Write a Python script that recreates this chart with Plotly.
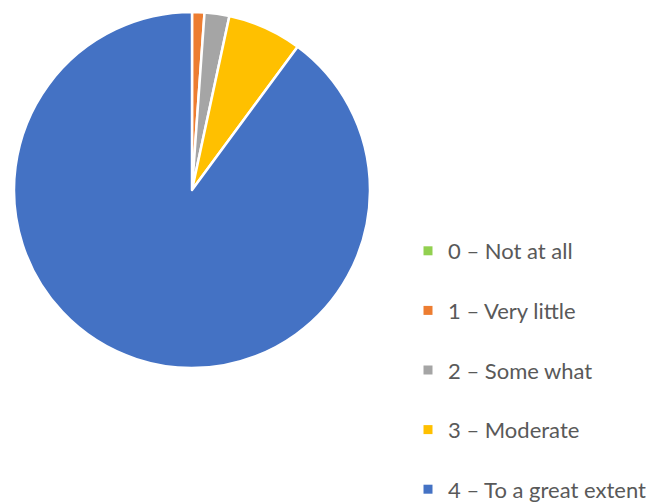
import plotly.graph_objects as go

labels = ["0 – Not at all", "1 – Very little", "2 – Some what", "3 – Moderate", "4 – To a great extent"]
values = [0, 1, 2, 6, 80]
colors = ["#92D050", "#ED7D31", "#A5A5A5", "#FFC000", "#4472C4"]

W, H = 654, 504
fig = go.Figure()
fig.add_trace(go.Pie(
    labels=labels, values=values, sort=False, direction="clockwise", rotation=0,
    marker=dict(colors=colors, line=dict(color="white", width=2.5)),
    textinfo="none", hoverinfo="label+value", showlegend=False,
    domain=dict(x=[6 / W, 362 / W], y=[1 - 360 / H, 1 - 4 / H]),
))
for i, (lab, col) in enumerate(zip(labels, colors)):
    fig.add_trace(go.Scatter(
        x=[None], y=[None], mode="markers", name=lab, legendgroup=str(i),
        marker=dict(symbol="square", size=9, color=col),
    ))

fig.update_layout(
    width=W, height=H, margin=dict(l=0, r=0, t=0, b=0, autoexpand=False),
    paper_bgcolor="white", plot_bgcolor="white",
    xaxis=dict(visible=False), yaxis=dict(visible=False),
    font=dict(family="Lato, sans-serif", color="#595959", size=22),
    legend=dict(x=400 / W, y=1 - 222 / H, xanchor="left", yanchor="top",
                tracegroupgap=28, itemwidth=30, bgcolor="rgba(0,0,0,0)"),
)
fig.write_html("out.html")
